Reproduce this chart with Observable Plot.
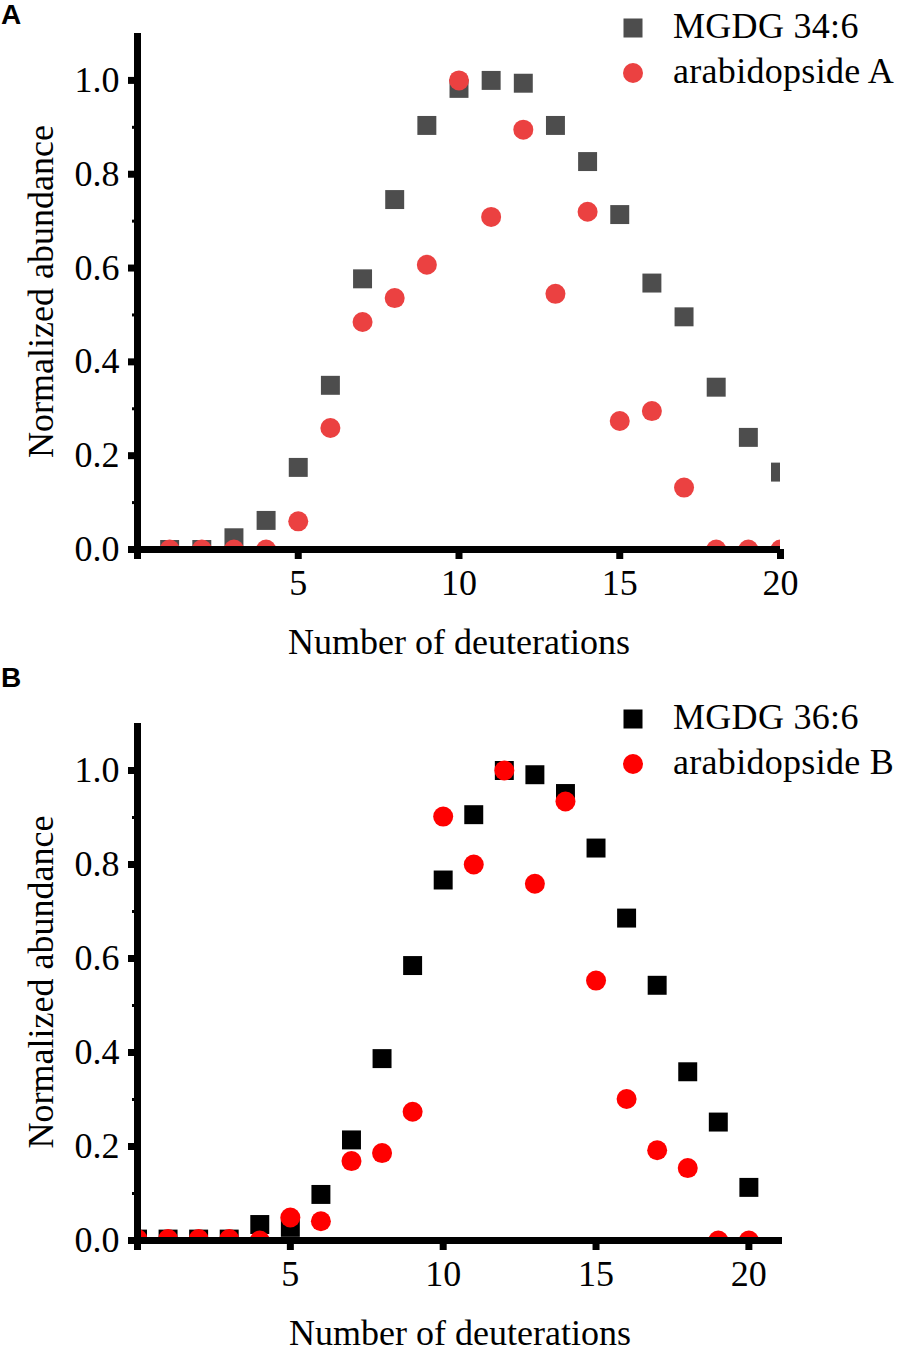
<!DOCTYPE html>
<html>
<head>
<meta charset="utf-8">
<script src="https://cdn.jsdelivr.net/npm/d3@7"></script>
<script src="https://cdn.jsdelivr.net/npm/@observablehq/plot@0.6"></script>
<style>
  html, body { margin: 0; padding: 0; background: white; }
  #root { position: relative; width: 901px; height: 1351px; overflow: hidden; font-family: "Liberation Serif", "Times New Roman", serif; }
  .panel { position: absolute; left: 0; width: 901px; }
  .letter { position: absolute; font-family: "Liberation Sans", Arial, sans-serif; font-weight: bold; font-size: 28px; line-height: 28px; z-index: 5; }
  .leg { position: absolute; font-size: 36px; line-height: 1; white-space: nowrap; }
  .leg svg { position: absolute; overflow: visible; }
</style>
</head>
<body>
<div id="root"></div>
<script>
// ---------- data ----------
const deutA = [1, 2, 3, 4, 5, 6, 7, 8, 9, 10, 11, 12, 13, 14, 15, 16, 17, 18, 19, 20];
const mgdg346 = [0.0, 0.0, 0.025, 0.062, 0.175, 0.35, 0.577, 0.746, 0.904, 0.983, 1.0, 0.994, 0.904, 0.827, 0.714, 0.568, 0.496, 0.346, 0.239, 0.165];
const arabidopsideA = [0.0, 0.0, 0.0, 0.0, 0.06, 0.259, 0.485, 0.536, 0.607, 1.0, 0.709, 0.895, 0.545, 0.72, 0.274, 0.295, 0.132, 0.0, 0.0, 0.0];

const deutB = [0, 1, 2, 3, 4, 5, 6, 7, 8, 9, 10, 11, 12, 13, 14, 15, 16, 17, 18, 19, 20];
const mgdg366 = [0.003, 0.003, 0.003, 0.003, 0.034, 0.028, 0.098, 0.214, 0.387, 0.585, 0.767, 0.906, 1.0, 0.991, 0.951, 0.835, 0.686, 0.543, 0.359, 0.252, 0.113];
const arabidopsideB = [0.003, 0.003, 0.003, 0.003, 0.0, 0.049, 0.041, 0.169, 0.186, 0.274, 0.902, 0.8, 1.0, 0.759, 0.934, 0.553, 0.301, 0.192, 0.154, 0.0, 0.0];

const yMajorTicks = [0, 0.2, 0.4, 0.6, 0.8, 1.0];
const yMinorTicks = [0.1, 0.3, 0.5, 0.7, 0.9];
const xTicks = [0, 5, 10, 15, 20];
const xTickLabels = ["", "5", "10", "15", "20"];

const panels = [
  { letter: "A", top: 0, height: 680, marginTop: 33, marginBottom: 131, xMax: 20, marginRight: 121,
    x: deutA, s1: mgdg346, s2: arabidopsideA,
    n1: "MGDG 34:6", n2: "arabidopside A", c1: "#4d4d4d", c2: "#eb4141",
    letterTop: 1, legTop: 28 },
  { letter: "B", top: 680, height: 671, marginTop: 43, marginBottom: 111, xMax: 21.1, marginRight: 119,
    x: deutB, s1: mgdg366, s2: arabidopsideB,
    n1: "MGDG 36:6", n2: "arabidopside B", c1: "#000000", c2: "#ff0000",
    letterTop: -16, legTop: 39 }
];

const root = document.getElementById("root");
const fmt = d3.format(".1f");

for (const p of panels) {
  const t1 = p.x.map((d, i) => ({x: d, y: p.s1[i]}));
  const t2 = p.x.map((d, i) => ({x: d, y: p.s2[i]}));
  const chart = Plot.plot({
    width: 901,
    height: p.height,
    marginLeft: 137,
    marginRight: p.marginRight,
    marginTop: p.marginTop,
    marginBottom: p.marginBottom,
    style: { fontFamily: "Liberation Serif, Times New Roman, serif", fontSize: "36px", color: "black", background: "transparent", overflow: "visible" },
    x: { domain: [0, p.xMax] },
    y: { domain: [0, 1.1] },
    marks: [
      Plot.dot(t1, { x: "x", y: "y", symbol: "square", r: 10.7, fill: p.c1, stroke: "none", clip: true }),
      Plot.dot(t2, { x: "x", y: "y", symbol: "circle", r: 10, fill: p.c2, stroke: "none", clip: true }),
      Plot.axisY({ ticks: yMinorTicks, tickSize: 5, strokeWidth: 3, text: null, label: null }),
      Plot.axisY({ ticks: yMajorTicks, tickSize: 9, strokeWidth: 7, tickPadding: 9, tickFormat: fmt,
        fontSize: 36, label: "Normalized abundance", labelAnchor: "center", labelArrow: "none", labelOffset: 110 }),
      Plot.axisX({ ticks: xTicks, tickSize: 10, strokeWidth: 7, tickPadding: 10, tickFormat: (d) => xTickLabels[xTicks.indexOf(d)],
        fontSize: 36, label: "Number of deuterations", labelAnchor: "center", labelArrow: "none", labelOffset: 104 }),
      Plot.ruleX([0], { strokeWidth: 7 }),
      Plot.ruleY([0], { strokeWidth: 7 })
    ]
  });
  const div = document.createElement("div");
  div.className = "panel";
  div.style.top = p.top + "px";
  div.style.height = p.height + "px";
  div.appendChild(chart);

  const letter = document.createElement("div");
  letter.className = "letter";
  letter.style.left = "1px";
  letter.style.top = p.letterTop + "px";
  letter.textContent = p.letter;
  div.appendChild(letter);

  const rows = [
    { name: p.n1, color: p.c1, shape: "square", cy: p.legTop },
    { name: p.n2, color: p.c2, shape: "circle", cy: p.legTop + 45 }
  ];
  for (const r of rows) {
    const leg = document.createElement("div");
    leg.className = "leg";
    leg.style.left = "673px";
    leg.style.top = (r.cy - 20) + "px";
    leg.style.letterSpacing = "0.3px";
    leg.textContent = r.name;
    const ns = "http://www.w3.org/2000/svg";
    const svg = document.createElementNS(ns, "svg");
    svg.setAttribute("width", "24"); svg.setAttribute("height", "24");
    svg.style.left = (633 - 12 - 673) + "px";
    svg.style.top = "8px";
    let el;
    if (r.shape === "square") {
      el = document.createElementNS(ns, "rect");
      el.setAttribute("x", 2.5); el.setAttribute("y", 2.5); el.setAttribute("width", 19); el.setAttribute("height", 19);
    } else {
      el = document.createElementNS(ns, "circle");
      el.setAttribute("cx", 12); el.setAttribute("cy", 12); el.setAttribute("r", 10);
    }
    el.setAttribute("fill", r.color);
    svg.appendChild(el);
    leg.appendChild(svg);
    div.appendChild(leg);
  }
  root.appendChild(div);
}
</script>
</body>
</html>
